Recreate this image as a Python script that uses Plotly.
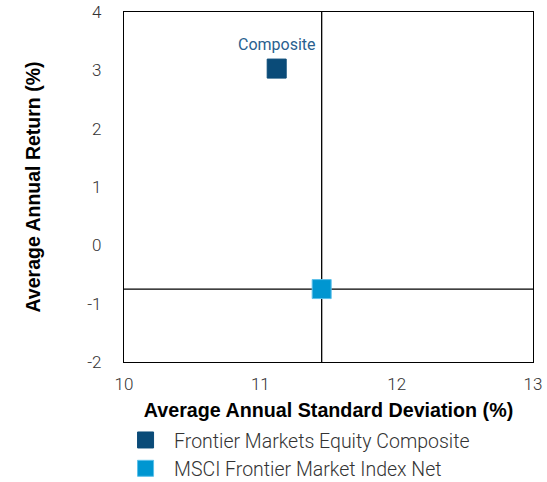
import plotly.graph_objects as go

series_names = ["Frontier Markets Equity Composite", "MSCI Frontier Market Index Net"]
std_dev = [11.12, 11.45]
returns = [3.03, -0.75]
colors = ["#0a4b78", "#0096d1"]
border_colors = ["#0a4b78", "#5cc0ea"]
x_ticks = [10, 11, 12, 13]
y_ticks = [-2, -1, 0, 1, 2, 3, 4]
y_tick_labels = ["-2", "-1", "0", "1", "2", "3", "4"]
label_text = "Composite"

fig = go.Figure()
for i in range(len(series_names)):
    fig.add_trace(go.Scatter(
        x=[std_dev[i]], y=[returns[i]], mode="markers", name=series_names[i],
        marker=dict(symbol="square", size=19, color=colors[i],
                    line=dict(color=border_colors[i], width=1)),
    ))

# crosshair through benchmark
fig.add_shape(type="line", xref="x", yref="y", x0=std_dev[1], x1=std_dev[1], y0=-2, y1=4,
              line=dict(color="black", width=1.3), layer="below")
fig.add_shape(type="line", xref="x", yref="y", x0=10, x1=13, y0=returns[1], y1=returns[1],
              line=dict(color="black", width=1.3), layer="below")

fig.add_annotation(x=std_dev[0], y=returns[0], text=label_text, showarrow=False,
                   yshift=24, font=dict(family="Roboto", size=16, color="#2a5f8f"))

light = dict(family="Roboto", weight=300, color="#333")

fig.update_layout(
    width=547, height=482,
    margin=dict(l=124, r=14, t=12, b=120, autoexpand=False),
    paper_bgcolor="white", plot_bgcolor="white",
    font=dict(family="Liberation Sans, Arial", color="#333"),
    showlegend=True,
    legend=dict(x=-0.017, y=-0.168, xanchor="left", yanchor="top",
                font=dict(size=19.5, **light), tracegroupgap=0, itemsizing="trace",
                itemwidth=47, bgcolor="rgba(0,0,0,0)"),
    xaxis=dict(range=[10, 13], tickvals=x_ticks, showgrid=False, zeroline=False,
               showline=True, mirror=True, linecolor="black", linewidth=1.3,
               ticks="", tickfont=dict(size=17, **light), ticklabelstandoff=6,
               title=dict(text="<b>Average Annual Standard Deviation (%)</b>",
                          font=dict(size=19.7, color="black"), standoff=10)),
    yaxis=dict(range=[-2, 4], tickvals=y_ticks, ticktext=y_tick_labels, showgrid=False, zeroline=False,
               showline=True, mirror=True, linecolor="black", linewidth=1.3,
               ticks="", tickfont=dict(size=17, **light), ticklabelstandoff=18,
               title=dict(text="<b>Average Annual Return (%)</b>",
                          font=dict(size=19.5, color="black"), standoff=41)),
)

# remove the browser's default 8px body margin so the figure fills the window
fig.write_html("out.html", config={"displayModeBar": False},
               post_script="document.body.style.margin='0';document.body.style.overflow='hidden';")
